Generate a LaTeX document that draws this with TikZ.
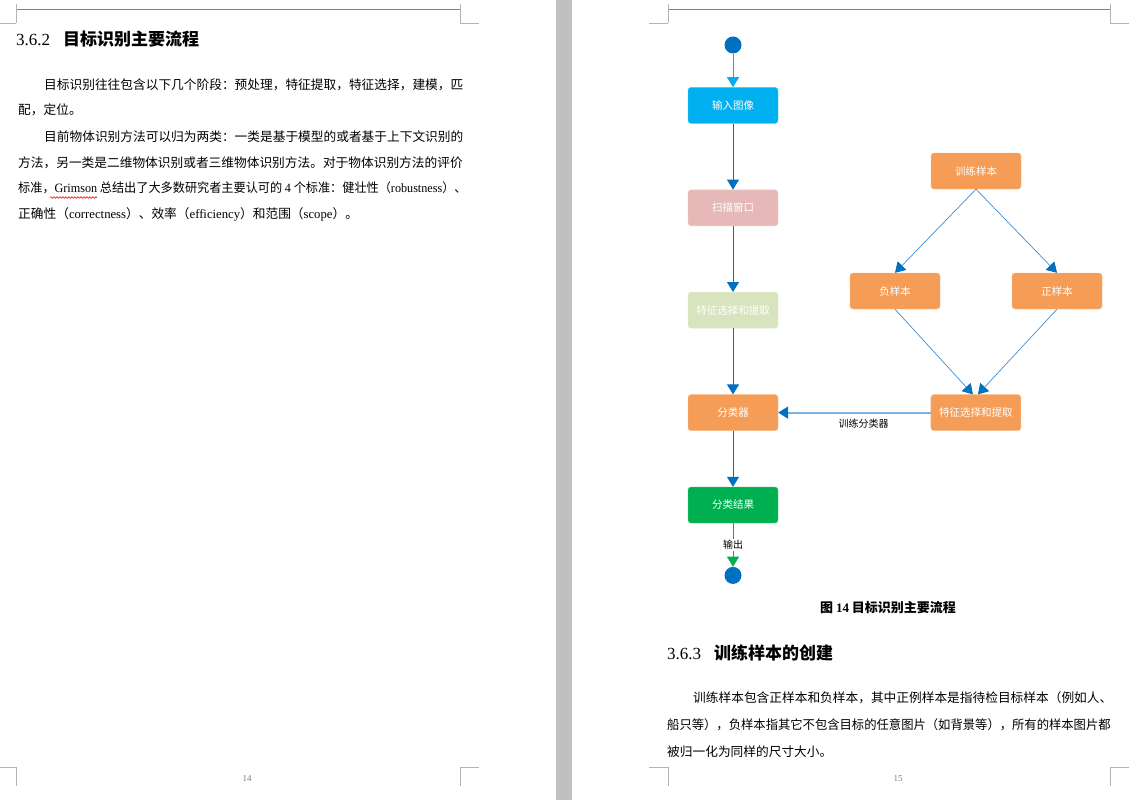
\documentclass[tikz,border=0pt]{standalone}
\usepackage{graphicx}
\usepackage{fontspec}
\setmainfont{Noto Sans CJK SC}
\newfontfamily\lat{Liberation Serif}
\usetikzlibrary{positioning,arrows.meta,decorations.pathmorphing}

\definecolor{dotblue}{HTML}{0070C0}
\definecolor{inputblue}{HTML}{00B0F0}
\definecolor{scanpink}{HTML}{E6B9B8}
\definecolor{featgreen}{HTML}{D7E4BD}
\definecolor{boxorange}{HTML}{F59D56}
\definecolor{resgreen}{HTML}{00B050}
\definecolor{slimblue}{HTML}{3F8FD6}
\definecolor{trainblue}{HTML}{7DB3E0}
\definecolor{stripgray}{HTML}{C0C0C0}
\definecolor{markgray}{HTML}{B4B4B4}
\definecolor{headgray}{HTML}{808080}
\definecolor{numgray}{HTML}{7F7F7F}

\begin{document}
\begin{tikzpicture}[
    x=1pt, y=-1pt,
    box/.style={fill=#1, draw=#1!70!white, rounded corners=3pt, minimum width=90pt, minimum height=36pt, inner sep=0pt, text=white, font=\fontsize{10.5}{12}\selectfont},
    dot/.style={circle, fill=dotblue, minimum size=17pt, inner sep=0pt},
    flow/.style={draw=dotblue, line width=1pt, -{Triangle[length=10pt, width=12pt, color=dotblue]}},
    startflow/.style={draw=inputblue, line width=1pt, -{Triangle[length=10pt, width=12pt, color=inputblue]}},
    resflow/.style={draw=resgreen, line width=1pt, -{Triangle[length=10pt, width=12pt, color=resgreen]}},
    slimflow/.style={draw=slimblue, line width=0.7pt, -{Triangle[length=10pt, width=12pt, color=dotblue]}},
    trainflow/.style={draw=trainblue, line width=2pt, -{Triangle[length=10pt, width=12pt, color=dotblue]}},
    tag/.style={text=black, inner sep=1pt, font=\fontsize{10}{12}\selectfont},
    body/.style={anchor=west, inner sep=0pt, font=\fontsize{12.7}{14}\selectfont},
    heading/.style={anchor=west, inner sep=0pt, font=\fontsize{17}{20}\selectfont},
    pagenum/.style={inner sep=0pt, text=numgray, font=\fontsize{9}{10}\selectfont\lat},
    cornermark/.style={draw=markgray, line width=0.8pt},
    spell/.style={draw=red, line width=0.6pt, decorate, decoration={snake, amplitude=0.8pt, segment length=3pt}}
]

% page background and the gap between the pages
\fill[white] (0,0) rectangle (1131,800);
\useasboundingbox (0,0) rectangle (1131,800);
\fill[stripgray] (556,0) rectangle (572,800);

% header lines and corner marks
\draw[headgray, line width=0.8pt] (16,9) -- (460,9);
\draw[headgray, line width=0.8pt] (668,9) -- (1110,9);
\foreach \xa/\xb/\xo in {16/0/16, 460/479/460, 668/649/668, 1110/1129/1110} {
    \draw[cornermark] (\xo,4) -- (\xo,23) (\xa,23) -- (\xb,23);
    \draw[cornermark] (\xo,786) -- (\xo,767) (\xa,767) -- (\xb,767);
}
\node[pagenum] (num14) at (247,779) {14};
\node[pagenum] (num15) at (898,779) {15};

% left page text
\node[heading] (h362) at (16,39) {{\lat 3.6.2}\hspace{13pt}{\bfseries 目标识别主要流程}};
\node[body] (p1) at (44,85) {目标识别往往包含以下几个阶段：预处理，特征提取，特征选择，建模，匹};
\node[body] (p2) at (18,110) {配，定位。};
\node[body] (p3) at (44,137) {目前物体识别方法可以归为两类：一类是基于模型的或者基于上下文识别的};
\node[body] (p4) at (18,163) {方法，另一类是二维物体识别或者三维物体识别方法。对于物体识别方法的评价};
\node[body] (p5) at (18,188) {\scalebox{0.957}[1]{标准，{\lat Grimson} 总结出了大多数研究者主要认可的 {\lat 4} 个标准：健壮性（{\lat robustness}）、}};
\node[body] (p6) at (18,214) {正确性（{\lat correctness}）、效率（{\lat efficiency}）和范围（{\lat scope}）。};
\draw[spell] (50,197.5) -- (97,197.5);

% flow chart, main column
\node[dot] (start) at (733,45) {};
\node[box=inputblue, below=33.5pt of start] (input) {输入图像};
\node[box=scanpink, below=66pt of input] (scan) {扫描窗口};
\node[box=featgreen, below=66pt of scan] (featL) {特征选择和提取};
\node[box=boxorange, below=66pt of featL] (clf) {分类器};
\node[box=resgreen, below=56pt of clf] (result) {分类结果};
\node[dot, below=43.5pt of result] (finish) {};

% training branch
\node[box=boxorange, right=152.5pt of clf] (featR) {特征选择和提取};
\node[box=boxorange] (train) at (976,171) {训练样本};
\node[box=boxorange] (neg) at (895,291) {负样本};
\node[box=boxorange] (pos) at (1057,291) {正样本};

\draw[startflow] (start) -- (input);
\draw[flow] (input) -- (scan);
\draw[flow] (scan) -- (featL);
\draw[flow] (featL) -- (clf);
\draw[flow] (clf) -- (result);
\draw[resflow] (result) -- node[tag, fill=white] {输出} (finish);
\draw[slimflow] (train.south) -- (neg.north);
\draw[slimflow] (train.south) -- (pos.north);
\draw[slimflow] (neg.south) -- ([xshift=-3pt]featR.north);
\draw[slimflow] (pos.south) -- ([xshift=2pt]featR.north);
\draw[trainflow] (featR) -- node[tag, below=4pt, pos=0.44] {训练分类器} (clf);

% right page text
\node[inner sep=0pt, font=\fontsize{13}{15}\selectfont\bfseries] (caption) at (888,608) {图 {\lat 14} 目标识别主要流程};
\node[heading] (h363) at (667,653) {{\lat 3.6.3}\hspace{13pt}{\bfseries 训练样本的创建}};
\node[body] (q1) at (693,698) {训练样本包含正样本和负样本，其中正例样本是指待检目标样本（例如人、};
\node[body] (q2) at (667,725) {\scalebox{0.97}[1]{船只等），负样本指其它不包含目标的任意图片（如背景等），所有的样本图片都}};
\node[body] (q3) at (667,752) {被归一化为同样的尺寸大小。};

\end{tikzpicture}
\end{document}
